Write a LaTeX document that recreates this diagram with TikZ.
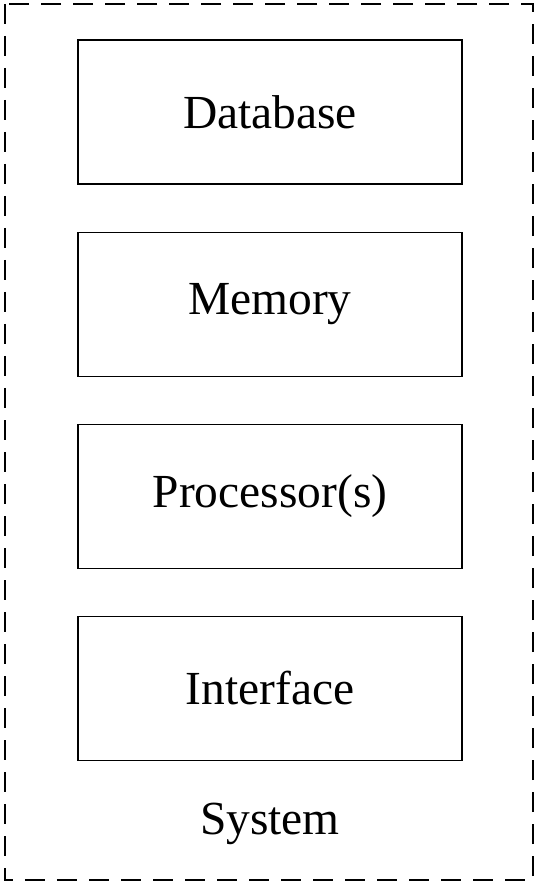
\documentclass[tikz,border=0pt]{standalone}
\usepackage{fontspec}
\setmainfont{Liberation Serif}
\usetikzlibrary{positioning}
\tikzset{
  unitbox/.style={draw, line width=1.1pt, minimum width=7.68cm, minimum height=2.88cm, font=\fontsize{27}{32}\selectfont},
  sysframe/.style={line width=1.1pt, dash pattern=on 0.4cm off 0.24cm}
}

\begin{document}
\begin{tikzpicture}
		%%%%% START %%%%%
		\useasboundingbox (0, 0) rectangle (10.74, -17.68);
		
		\draw[sysframe] (0.1, -0.08) rectangle (10.66, -17.6);
		
		\node[unitbox] (database) at (5.4, -2.24) {Database};
		\node[unitbox] (memory) at (5.4, -6.09) {Memory};
		\node[unitbox] (processor) at (5.4, -9.93) {Processor(s)};
		\node[unitbox] (interface) at (5.4, -13.77) {Interface};
		
		\node[font=\fontsize{27}{32}\selectfont] (system) at (5.4, -16.48) {System};
		
		%%%%% END %%%%%
	\end{tikzpicture}
\end{document}
